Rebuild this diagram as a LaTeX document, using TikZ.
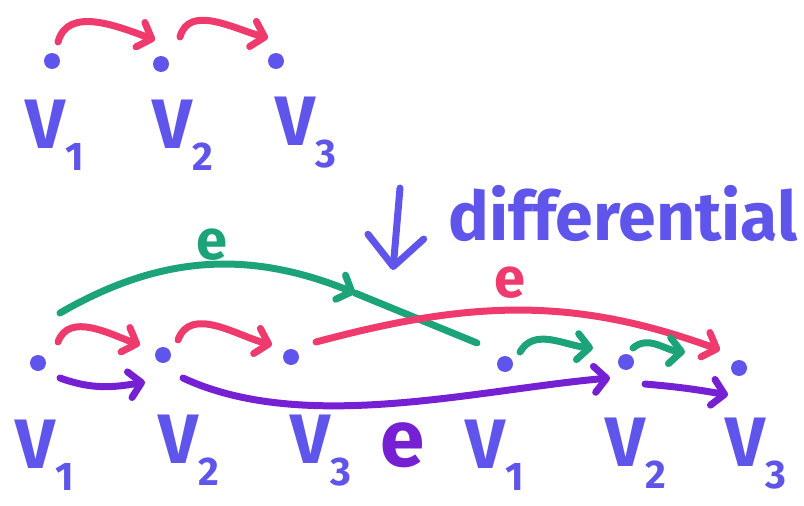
\documentclass[tikz,border=0pt]{standalone}
\usepackage{fontspec}
\setmainfont{Fira Sans}
\usetikzlibrary{arrows.meta}
\definecolor{penblue}{RGB}{95,85,235}
\definecolor{penred}{RGB}{238,58,108}
\definecolor{pengreen}{RGB}{28,163,122}
\definecolor{penpurple}{RGB}{118,32,212}
\newcommand{\vsub}[1]{V\raisebox{-22pt}{\fontsize{40}{40}\selectfont #1}}
\begin{document}
\begin{tikzpicture}[
    x=1pt, y=-1pt,
    vdot/.style={circle, fill=penblue, draw=none, inner sep=0pt, outer sep=0pt, minimum size=16pt},
    lbl/.style={anchor=north west, inner sep=0pt, text=penblue, font=\bfseries\fontsize{70}{70}\selectfont},
    elbl/.style={inner sep=0pt, font=\bfseries\fontsize{56}{56}\selectfont},
    pen/.style={line width=7pt, line cap=round, line join=round},
    tip/.style={pen, -{Straight Barb[length=12pt, width=26pt, round]}},
    redtip/.style={tip, draw=penred},
    greentip/.style={tip, draw=pengreen},
    purpletip/.style={tip, draw=penpurple},
  ]
    \useasboundingbox (0,0) rectangle (804,506);

    \node[vdot] (t1) at (52,61) {};
    \node[vdot] (t2) at (161,64) {};
    \node[vdot] (t3) at (276,61) {};
    \node[lbl] (tl1) at (25,100) {\vsub{1}};
    \node[lbl] (tl2) at (152,100) {\vsub{2}};
    \node[lbl] (tl3) at (275,97) {\vsub{3}};
    \draw[redtip] ([shift={(6,-19)}]t1.center) to[out=75, in=160] ([shift={(-6,-24)}]t2.center);
    \draw[redtip] ([shift={(19,-27)}]t2.center) to[out=75, in=165] ([shift={(-8,-23)}]t3.center);

    \coordinate (dtop) at (400,188);
    \coordinate (dbot) at (393,270);
    \draw[pen, draw=penblue, -{Straight Barb[length=30pt, width=56pt, round]}] (dtop) -- (dbot);
    \node[anchor=base west, inner sep=0pt, text=penblue, font=\bfseries\fontsize{68}{68}\selectfont] (diff) at (448,240) {differential};

    \node[vdot] (b1) at (38,363) {};
    \node[vdot] (b2) at (163,355) {};
    \node[vdot] (b3) at (291,357) {};
    \node[vdot] (c1) at (505,364) {};
    \node[vdot] (c2) at (626,362) {};
    \node[vdot] (c3) at (739,368) {};
    \node[lbl] (bl1) at (15,420) {\vsub{1}};
    \node[lbl] (bl2) at (158,415) {\vsub{2}};
    \node[lbl] (bl3) at (290,415) {\vsub{3}};
    \node[lbl] (cl1) at (465,420) {\vsub{1}};
    \node[lbl] (cl2) at (605,418) {\vsub{2}};
    \node[lbl] (cl3) at (725,418) {\vsub{3}};

    \draw[redtip] ([shift={(20,-21)}]b1.center) to[out=70, in=160] ([shift={(-23,-10)}]b2.center);
    \draw[purpletip] ([shift={(22,15)}]b1.center) to[out=-20, in=190] ([shift={(-18,27)}]b2.center);
    \draw[redtip] ([shift={(15,-15)}]b2.center) to[out=70, in=165] ([shift={(-19,-12)}]b3.center);

    \coordinate (gmid) at (355,293);
    \draw[greentip] ([shift={(22,-50)}]b1.center) to[out=30, in=158] (gmid);
    \draw[pen, draw=pengreen] (gmid) -- ([shift={(-28,-21)}]c1.center);
    \node[elbl, text=pengreen] (eg) at (212,245) {e};

    \draw[redtip] ([shift={(25,-15)}]b3.center) to[out=15, in=160] ([shift={(-19,-18)}]c3.center);
    \node[elbl, text=penred] (er) at (510,283) {e};

    \draw[purpletip] ([shift={(20,23)}]b2.center) to[out=-25, in=185, looseness=0.8] ([shift={(-16,16)}]c2.center);
    \node[elbl, text=penpurple, font=\bfseries\fontsize{80}{80}\selectfont] (ep) at (403,445) {e};

    \draw[greentip] ([shift={(15,-12)}]c1.center) to[out=60, in=175] ([shift={(-33,-14)}]c2.center);
    \draw[greentip] ([shift={(7,-14)}]c2.center) to[out=40, in=175] ([shift={(-54,-16)}]c3.center);
    \draw[purpletip] ([shift={(19,22)}]c2.center) to[out=-5, in=170] ([shift={(-11,27)}]c3.center);
\end{tikzpicture}
\end{document}
